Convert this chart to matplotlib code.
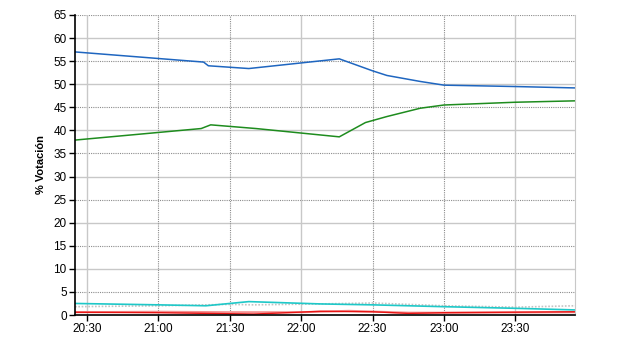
import matplotlib
matplotlib.use('Agg')
import matplotlib.pyplot as plt
import matplotlib.dates as mdates
import pandas as pd

plt.rcParams['font.family'] = ['Liberation Sans', 'DejaVu Sans']

DAY = '2000-01-01 '

# vote share (%) over the evening
blue_t = ['20:25', '21:19', '21:21', '21:38', '22:16', '22:30', '22:36', '22:50', '23:00', '23:30', '23:55']
blue_v = [57.0, 54.8, 54.0, 53.4, 55.5, 52.9, 51.9, 50.6, 49.8, 49.5, 49.2]

green_t = ['20:25', '21:18', '21:22', '21:41', '22:16', '22:27', '22:36', '22:50', '23:00', '23:30', '23:55']
green_v = [37.9, 40.4, 41.2, 40.4, 38.6, 41.7, 43.0, 44.8, 45.5, 46.1, 46.4]

cyan_t = ['20:25', '21:00', '21:20', '21:38', '22:08', '22:30', '23:00', '23:30', '23:55']
cyan_v = [2.5, 2.2, 2.0, 2.9, 2.4, 2.2, 1.8, 1.45, 1.1]

gray_t = ['20:25', '21:00', '21:30', '21:40', '22:08', '22:30', '23:00', '23:30', '23:55']
gray_v = [1.8, 2.0, 2.3, 2.2, 2.4, 2.6, 2.0, 1.7, 2.0]

red_t = ['20:25', '21:00', '21:40', '22:08', '22:30', '22:45', '23:00', '23:55']
red_v = [0.6, 0.5, 0.2, 0.8, 0.7, 0.35, 0.5, 0.7]

pink_t = ['20:25', '21:00', '21:30', '22:00', '22:20', '22:45', '23:00', '23:55']
pink_v = [0.6, 0.7, 0.6, 0.6, 0.9, 0.5, 0.5, 0.6]

xticks = ['20:30', '21:00', '21:30', '22:00', '22:30', '23:00', '23:30']
yticks = list(range(0, 70, 5))


def ts(lst):
    return pd.to_datetime([DAY + s for s in lst])


fig = plt.figure(figsize=(6.4, 3.5), dpi=100)
ax = fig.add_axes([75 / 640, 35 / 350, 500 / 640, 300 / 350])

ax.set_xlim(ts(['20:25'])[0], ts(['23:55'])[0])
ax.set_ylim(0, 65)

# grid: every 10 solid light, odd fives dotted; verticals solid every 90 min
for y in yticks[1:]:
    if y % 10 == 0:
        ax.axhline(y, color='#c8c8c8', lw=1.0, zorder=0)
    else:
        ax.axhline(y, color='#8c8c8c', lw=0.8, ls=(0, (1, 1)), zorder=0)
for i, t in enumerate(ts(xticks)):
    if i % 3 == 0:
        ax.axvline(t, color='#c8c8c8', lw=1.0, zorder=0)
    else:
        ax.axvline(t, color='#8c8c8c', lw=0.8, ls=(0, (1, 1)), zorder=0)

ax.plot(ts(gray_t), gray_v, color='#c4c4c4', lw=1.2, ls=(0, (1, 1)))
ax.plot(ts(pink_t), pink_v, color='#f49090', lw=1.5)
ax.plot(ts(red_t), red_v, color='#e81515', lw=1.0)
ax.plot(ts(cyan_t), cyan_v, color='#1ec8c8', lw=1.2)
ax.plot(ts(green_t), green_v, color='#1e8c1e', lw=1.1)
ax.plot(ts(blue_t), blue_v, color='#1f66c0', lw=1.1)

ax.set_xticks(ts(xticks))
ax.xaxis.set_major_formatter(mdates.DateFormatter('%H:%M'))
ax.set_yticks(yticks)
ax.tick_params(labelsize=8.5, length=4, width=1, color='black', pad=2)

ax.spines['top'].set_visible(False)
ax.spines['right'].set_color('#c8c8c8')
ax.spines['left'].set_linewidth(1.2)
ax.spines['bottom'].set_linewidth(1.2)

ax.set_ylabel('% Votación', fontsize=8, fontweight='bold', labelpad=5)

fig.savefig('out.png', dpi=100)
